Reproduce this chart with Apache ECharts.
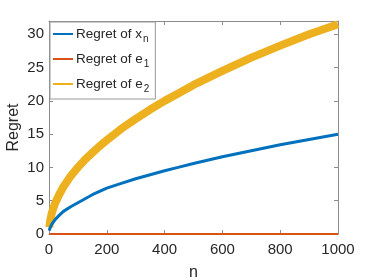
<!DOCTYPE html>
<html><head><meta charset="utf-8">
<script src="https://cdn.jsdelivr.net/npm/echarts@6/dist/echarts.min.js"></script>
<style>html,body{margin:0;padding:0;background:#fff}#c{width:374px;height:280px}</style>
</head><body><div id="c"></div>
<script>
var nValues = [1, 3, 5, 10, 20, 35, 50, 75, 100, 125, 150, 175, 200, 250, 300, 350, 400, 450, 500, 600, 700, 800, 900, 1000];
var regretX = [0.5, 0.85, 1.1, 1.5, 2.1, 2.8, 3.4, 4.1, 4.7, 5.3, 5.9, 6.4, 6.9, 7.6, 8.3, 8.9, 9.5, 10.05, 10.6, 11.6, 12.5, 13.4, 14.2, 15.0];
var regretE1 = [0, 0, 0, 0, 0, 0, 0, 0, 0, 0, 0, 0, 0, 0, 0, 0, 0, 0, 0, 0, 0, 0, 0, 0];
var regretE2 = [1.0, 1.7, 2.2, 3.2, 4.5, 5.9, 7.1, 8.7, 10.0, 11.2, 12.2, 13.2, 14.1, 15.8, 17.3, 18.7, 20.0, 21.2, 22.4, 24.5, 26.5, 28.3, 30.0, 31.5];
var seriesNames = ['Regret of x_n', 'Regret of e_1', 'Regret of e_2'];
var legendLabels = {'Regret of x_n': 'Regret of x{sub|n}', 'Regret of e_1': 'Regret of e{sub|1}', 'Regret of e_2': 'Regret of e{sub|2}'};
var xTicks = [0, 200, 400, 600, 800, 1000];
var yTicks = [0, 5, 10, 15, 20, 25, 30];

function pairs(ys){ return nValues.map(function(n,i){ return [n, ys[i]]; }); }
var font = 'Liberation Sans, Arial, Helvetica, sans-serif';
var axisCol = '#8c8c8c';
var txtCol = '#262626';
var chart = echarts.init(document.getElementById('c'), null, {renderer:'canvas'});
function boxAxis(kind, pos, labels){
  var a = {
    type:'value', position:pos, min:0, max: kind==='x'?1000:32, interval: kind==='x'?200:5,
    axisLine:{show:true, onZero:false, lineStyle:{color:axisCol, width:1}},
    axisTick:{show:true, inside:true, length:4, lineStyle:{color:axisCol}},
    splitLine:{show:false},
    axisLabel:{show:labels, color:txtCol, fontFamily:font, fontSize:15, margin: kind==='x'?8:5,
      showMaxLabel: kind==='x'}
  };
  if (kind==='y') a.axisLabel.formatter = function(v){ return yTicks.indexOf(v)>=0 ? String(v) : ''; };
  else a.axisLabel.formatter = function(v){ return xTicks.indexOf(v)>=0 ? String(v) : ''; };
  return a;
}
var xa = boxAxis('x','bottom',true);
xa.name = 'n'; xa.nameLocation='middle'; xa.nameGap=31;
xa.nameTextStyle = {color:txtCol, fontFamily:font, fontSize:16};
var xb = boxAxis('x','top',false);
var ya = boxAxis('y','left',true);
ya.name = 'Regret'; ya.nameLocation='middle'; ya.nameGap=27; ya.nameMoveOverlap=false;
ya.nameTextStyle = {color:txtCol, fontFamily:font, fontSize:16};
var yb = boxAxis('y','right',false);

function line(name, data, color, width, z){
  return {name:name, type:'line', data:pairs(data), showSymbol:false, symbol:'none', smooth:false, z:z,
    lineStyle:{color:color, width:width, cap:'butt', join:'round'}, itemStyle:{color:color}};
}

chart.setOption({
  animation:false,
  grid:{left:49, right:36, top:21, bottom:46, containLabel:false, outerBoundsMode:'none'},
  xAxis:[xa, xb],
  yAxis:[ya, yb],
  legend:{
    data: seriesNames, orient:'vertical', left:50, top:22,
    backgroundColor:'#fff', borderColor:'#999', borderWidth:1, borderRadius:0,
    padding:[5,6,5,3], itemGap:8, itemWidth:20, itemHeight:16,
    icon:'path://M0,7 L20,7 L20,9 L0,9 Z',
    lineStyle:{width:2.5},
    formatter:function(name){ return legendLabels[name]; },
    textStyle:{color:txtCol, fontFamily:font, fontSize:13.5, padding:[0,0,0,-2],
      rich:{sub:{fontSize:10, fontFamily:font, color:txtCol, verticalAlign:'bottom', padding:[10,0,0,1]}}}
  },
  series:[
    line(seriesNames[0], regretX, '#0072bd', 3, 3),
    line(seriesNames[1], regretE1, '#d95319', 2, 4),
    line(seriesNames[2], regretE2, '#edb120', 8, 2)
  ]
});
</script></body></html>
